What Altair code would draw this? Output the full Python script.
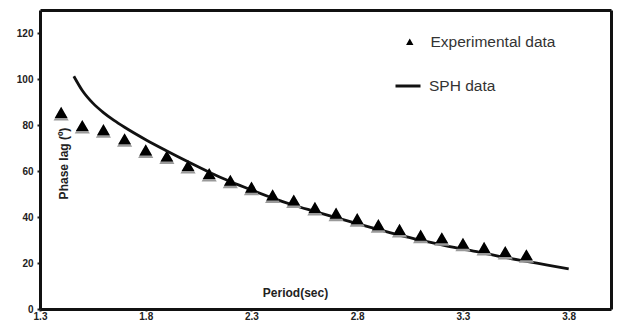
import altair as alt
import pandas as pd

# Experimental data (triangles)
exp_period = [1.40, 1.50, 1.60, 1.70, 1.80, 1.90, 2.00, 2.10, 2.20, 2.30, 2.40, 2.50,
              2.60, 2.70, 2.80, 2.90, 3.00, 3.10, 3.20, 3.30, 3.40, 3.50, 3.60]
exp_phase = [85.5, 79.8, 78.0, 74.0, 69.2, 66.5, 62.4, 58.9, 56.0, 53.0, 49.6, 47.4,
             44.2, 41.7, 39.3, 36.7, 34.6, 32.1, 31.0, 28.6, 26.8, 25.0, 23.6]

# SPH data (line)
sph_period = [1.46, 1.50, 1.55, 1.60, 1.65, 1.70, 1.80, 1.90, 2.00, 2.10, 2.20, 2.30,
              2.40, 2.50, 2.60, 2.70, 2.80, 2.90, 3.00, 3.10, 3.20, 3.30, 3.40, 3.50,
              3.60, 3.70, 3.80]
sph_phase = [101.2, 95.0, 89.5, 85.4, 82.0, 79.0, 73.6, 68.7, 64.0, 59.5, 55.4, 51.7,
             48.2, 45.1, 42.4, 39.7, 37.1, 34.6, 32.1, 29.9, 27.9, 26.0, 24.3, 22.4,
             20.7, 19.1, 17.4]

x_ticks = [1.3, 1.8, 2.3, 2.8, 3.3, 3.8]
y_ticks = [0, 20, 40, 60, 80, 100, 120]

exp_df = pd.DataFrame({"period": exp_period, "phase": exp_phase,
                       "s1": ["Experimental data"] * len(exp_period)})
sph_df = pd.DataFrame({"period": sph_period, "phase": sph_phase,
                       "s2": ["SPH data"] * len(sph_period)})

FONT = "Liberation Sans"
X_SCALE = alt.Scale(domain=[1.3, 4.0], nice=False, zero=False)
Y_SCALE = alt.Scale(domain=[0, 130], nice=False)

x_enc = alt.X("period:Q", scale=X_SCALE,
              axis=alt.Axis(values=x_ticks, format=".1f", title="Period(sec)",
                            titleX=255, titleY=-17, titleAlign="center",
                            titleBaseline="middle", titleFontSize=12,
                            titleFontWeight="bold", titleColor="#222",
                            labelFontSize=10, labelFontWeight="bold", labelColor="#222",
                            labelPadding=0, tickSize=2, tickWidth=2, tickColor="#222",
                            domainWidth=3, domainColor="#111", grid=False,
                            labelFlush=False))
y_enc = alt.Y("phase:Q", scale=Y_SCALE,
              axis=alt.Axis(values=y_ticks, title="Phase lag (º)",
                            titleX=23, titleY=153, titleAngle=270, titleAlign="center",
                            titleBaseline="middle", titleFontSize=12,
                            titleFontWeight="bold", titleColor="#222",
                            labelFontSize=10, labelFontWeight="bold", labelColor="#222",
                            labelPadding=4, tickSize=3, tickWidth=2, tickColor="#222",
                            domainWidth=3, domainColor="#111", grid=False))

line = alt.Chart(sph_df).mark_line(strokeWidth=2.8, interpolate="monotone").encode(
    x=x_enc, y=y_enc,
    color=alt.Color("s2:N", scale=alt.Scale(domain=["SPH data"], range=["#111"]),
                    legend=alt.Legend(title=None, orient="none", legendX=354, legendY=62,
                                      symbolType="stroke", symbolSize=625,
                                      symbolStrokeWidth=3, symbolStrokeColor="#111",
                                      labelFontSize=15.5, labelColor="#333", labelFont=FONT,
                                      labelOffset=7, padding=0))
)

# frame: top and right axis lines
frame = alt.Chart(sph_df).mark_line(opacity=0).encode(
    x=alt.X("period:Q", scale=X_SCALE,
            axis=alt.Axis(orient="top", labels=False, ticks=False, title=None,
                          domainWidth=3, domainColor="#111", grid=False)),
    y=alt.Y("phase:Q", scale=Y_SCALE,
            axis=alt.Axis(orient="right", labels=False, ticks=False, title=None,
                          domainWidth=3, domainColor="#111", grid=False)),
)

shadow = alt.Chart(exp_df).mark_point(shape="triangle-up", filled=True, size=230,
                                      color="#9a9a9a", opacity=1).encode(
    x=alt.X("period:Q", scale=X_SCALE, axis=None),
    y=alt.Y("phase:Q", scale=Y_SCALE, axis=None),
    yOffset=alt.value(1.5)
)

points = alt.Chart(exp_df).mark_point(filled=True, size=165, color="#000", opacity=1).encode(
    x=alt.X("period:Q", scale=X_SCALE, axis=None),
    y=alt.Y("phase:Q", scale=Y_SCALE, axis=None),
    shape=alt.Shape("s1:N", scale=alt.Scale(domain=["Experimental data"], range=["triangle-up"]),
                    legend=alt.Legend(title=None, orient="none", legendX=362, legendY=24,
                                      symbolSize=55, symbolFillColor="#000",
                                      symbolStrokeColor="#000", symbolStrokeWidth=0,
                                      labelFontSize=15.5, labelColor="#333", labelFont=FONT,
                                      labelOffset=13, padding=0))
)

chart = alt.layer(line, frame, shadow, points).resolve_axis(
    x="independent", y="independent"
).properties(
    width=571, height=299,
    autosize=alt.AutoSizeParams(type="none"),
    padding={"left": 32, "top": 2, "right": 2, "bottom": 13},
).configure_view(
    stroke="#111", strokeWidth=3
).configure(font=FONT).configure_axis(labelFont=FONT, titleFont=FONT)

chart.save("out.html", embed_options={"renderer": "svg", "actions": False})
